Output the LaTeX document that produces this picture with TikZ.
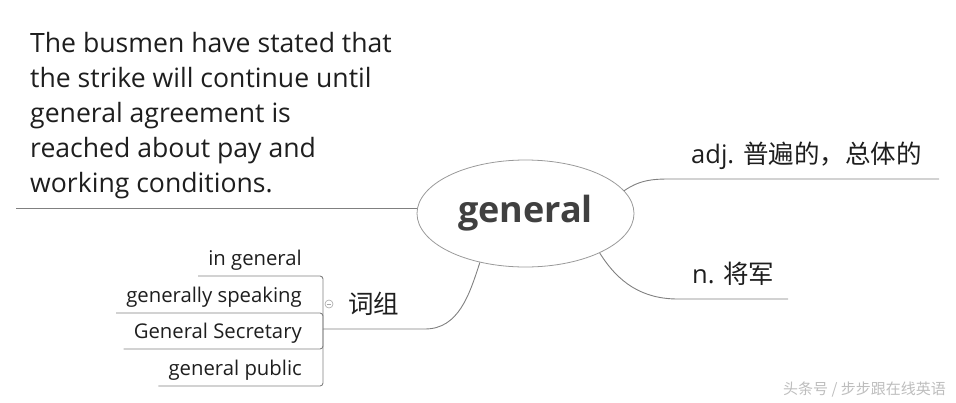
\documentclass[tikz,border=0pt]{standalone}
\usepackage{fontspec}
\setmainfont{Open Sans}
\newfontfamily\cjkfont{Noto Sans CJK SC}
\usetikzlibrary{positioning,shapes.geometric}
\definecolor{inkgray}{HTML}{1E1E1E}
\definecolor{topicgray}{HTML}{404040}
\definecolor{linegray}{HTML}{808080}
\definecolor{markgray}{HTML}{BDBDBD}
\begin{document}
\begin{tikzpicture}[x=1pt, y=-1pt,
    topic/.style={ellipse, draw=linegray!80, line width=0.8pt, inner sep=0pt,
      minimum width=217pt, minimum height=107pt, text=topicgray,
      font=\fontsize{36}{36}\selectfont\bfseries},
    branch/.style={draw=linegray, line width=0.9pt},
    word/.style={text=inkgray, inner sep=0pt, font=\fontsize{25.5}{25.5}\selectfont},
    phrase/.style={text=inkgray, inner sep=0pt, anchor=base east, font=\fontsize{20.3}{20.3}\selectfont}]
\useasboundingbox (0,0) rectangle (956,402);
% central topic
\node[topic] (general) at (525.5,213.5) {general};
% example sentence
\node[word, anchor=north west, align=left, font=\fontsize{26.6}{35}\selectfont] (sentence) at (30,32)
  {The busmen have stated that\\the strike will continue until\\general agreement is\\reached about pay and\\working conditions.};
\coordinate (sentenceend) at (16,208);
\draw[branch] (sentenceend) -- (general.west |- sentenceend);
% meanings
\node[word, anchor=base west] (adj) at (691,163) {adj. {\cjkfont 普遍的，总体的}};
\coordinate (adjstart) at (680,179);
\coordinate (adjend) at (939,179);
\draw[branch] (general.13) to[out=35, in=180] (adjstart) -- (adjend);
\node[word, anchor=base west] (noun) at (692,283) {n. {\cjkfont 将军}};
\coordinate (nounstart) at (678,299);
\coordinate (nounend) at (788,299);
\draw[branch] (general.-28) to[out=-58, in=180] (nounstart) -- (nounend);
% phrases
\node[word, anchor=base west, font=\cjkfont\fontsize{25.5}{25.5}\selectfont] (group) at (348,313) {词组};
\coordinate (groupstart) at (425,329);
\coordinate (groupjoin) at (323,329);
\draw[branch] (general.-133) to[out=-108, in=0] (groupstart) -- (groupjoin);
\node[circle, draw=linegray!70, line width=0.6pt, minimum size=8pt, inner sep=0pt] (fold) at (329,304) {};
\draw[linegray!70, line width=0.6pt] ([xshift=2pt]fold.west) -- ([xshift=-2pt]fold.east);
\node[phrase] (ingen) at (302,265) {in general};
\node[phrase] (genspeak) at (302,302) {generally speaking};
\node[phrase] (gensec) at (302,338) {General Secretary};
\node[phrase] (genpub) at (302,375) {general public};
\foreach \p in {ingen, genspeak, gensec, genpub}
  \draw[branch, rounded corners=3pt] (groupjoin) |- ([shift={(-10pt,-11pt)}]\p.base west);
% watermark
\node[text=markgray, inner sep=0pt, anchor=east, font=\cjkfont\fontsize{15}{15}\selectfont] (mark) at (946,390) {头条号 / 步步跟在线英语};
\end{tikzpicture}
\end{document}
